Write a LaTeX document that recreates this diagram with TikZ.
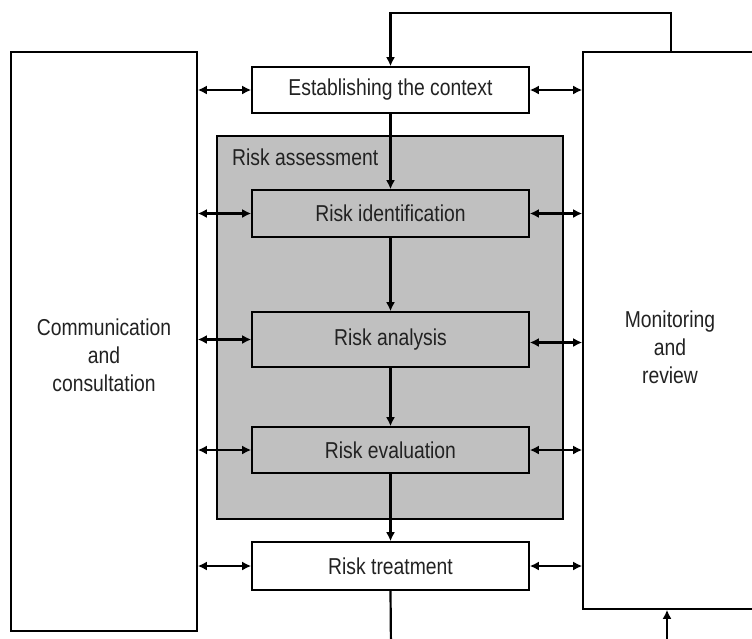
\documentclass[tikz,border=0pt]{standalone}
\usepackage{fontspec}
\setmainfont[FakeStretch=0.84]{Liberation Sans}
\usetikzlibrary{arrows.meta}
\definecolor{boxgray}{HTML}{C0C0C0}
\definecolor{txt}{HTML}{222222}
\tikzset{
  stagebox/.style={draw=black, line width=1.6pt, rectangle, minimum width=277pt, inner sep=0pt, text=txt, font=\fontsize{23}{28}\selectfont},
  bigbox/.style={draw=black, line width=1.6pt, rectangle, fill=white, inner sep=0pt},
  lbl/.style={text=txt, font=\fontsize{23}{28}\selectfont, align=center, inner sep=0pt},
  conn/.style={line width=2.2pt, draw=black},
  tip/.tip={Latex[length=9pt,width=9pt]},
  arr/.style={conn, -tip},
  dbl/.style={conn, tip-tip}
}
\begin{document}
\begin{tikzpicture}[x=1pt,y=-1pt]
\useasboundingbox (0,0) rectangle (752,638);
\clip (0,0) rectangle (752,638);
\fill[white] (0,0) rectangle (752,638);
% big side boxes
\node[bigbox, minimum width=186pt, minimum height=579pt] (comm) at (104,341.5) {};
\node[bigbox, minimum width=174pt, minimum height=557pt] (mon) at (670,330.5) {};
\node[lbl] (commtxt) at (104,355) {Communication\\and\\consultation};
\node[lbl] (montxt) at (670,347) {Monitoring\\and\\review};
% risk assessment area
\node[draw=black, line width=1.6pt, fill=boxgray, minimum width=346pt, minimum height=383pt, inner sep=0pt] (ra) at (390,327.5) {};
\node[lbl, anchor=west] (ratxt) at (232,157) {Risk assessment};
% stages
\node[stagebox, fill=white, minimum height=46pt] (est) at (390.5,90) {Establishing the context};
\node[stagebox, fill=boxgray, minimum height=47pt] (ide) at (390.5,213.5) {Risk identification};
\node[stagebox, fill=boxgray, minimum height=55pt] (ana) at (390.5,339.5) {Risk analysis};
\node[stagebox, fill=boxgray, minimum height=46pt] (eva) at (390.5,450) {Risk evaluation};
\node[stagebox, fill=white, minimum height=48pt] (tre) at (390.5,566) {Risk treatment};
% vertical flow
\draw[arr] (est.south) -- (ide.north);
\draw[arr] (ide.south) -- (ana.north);
\draw[arr] (ana.south) -- (eva.north);
\draw[arr] (eva.south) -- (tre.north);
\coordinate (treout) at (391,650);
\draw[conn] (tre.south) -- (treout);
% feedback loop at top
\coordinate (topR) at (671,13);
\coordinate (topL) at (390.5,13);
\draw[arr] (mon.north -| topR) -- (topR) -- (topL) -- (est.north);
% bottom arrow
\coordinate (botin) at (667,650);
\draw[arr] (botin) -- (botin |- mon.south);
% double arrows left
\draw[dbl] (comm.east |- est.west) -- (est.west);
\draw[dbl] (comm.east |- ide.west) -- (ide.west);
\draw[dbl] (comm.east |- ana.west) -- (ana.west);
\draw[dbl] (comm.east |- eva.west) -- (eva.west);
\draw[dbl] (comm.east |- tre.west) -- (tre.west);
% double arrows right
\coordinate (anaR) at ([yshift=-3pt]ana.east);
\draw[dbl] (est.east) -- (mon.west |- est.east);
\draw[dbl] (ide.east) -- (mon.west |- ide.east);
\draw[dbl] (anaR) -- (mon.west |- anaR);
\draw[dbl] (eva.east) -- (mon.west |- eva.east);
\draw[dbl] (tre.east) -- (mon.west |- tre.east);
\end{tikzpicture}
\end{document}
